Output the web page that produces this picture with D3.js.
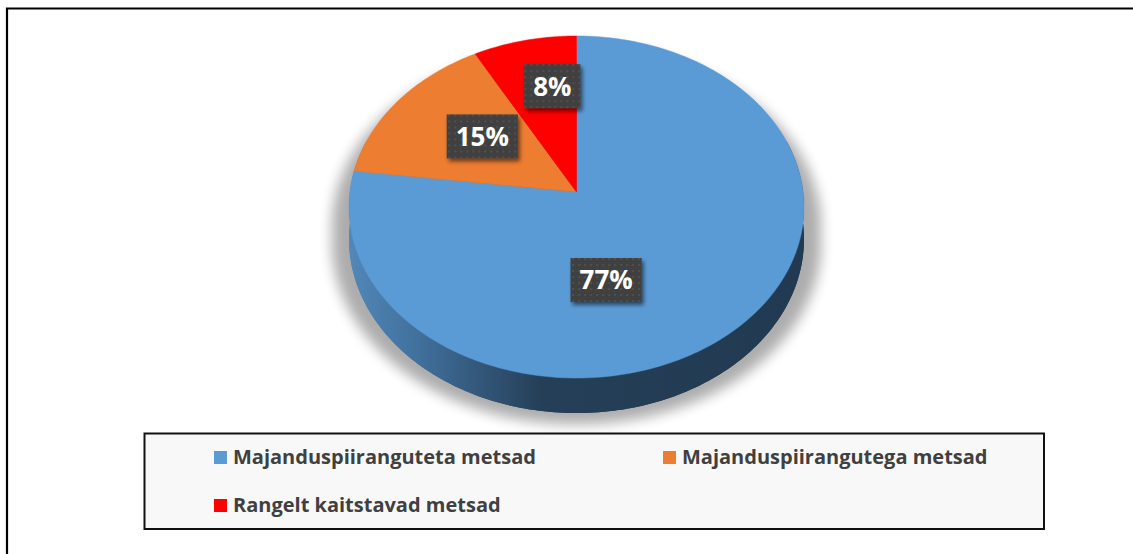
<!DOCTYPE html>
<html>
<head>
<meta charset="utf-8">
<script src="https://cdn.jsdelivr.net/npm/d3@7"></script>
<style>
  body { margin: 0; background: #fff; }
  svg { display: block; }
</style>
</head>
<body>
<div id="chart"></div>
<script>
var svgWidth = 1133;
var svgHeight = 554;

// data
var categories = ["Majanduspiiranguteta metsad", "Majanduspiirangutega metsad", "Rangelt kaitstavad metsad"];
var shares = [77, 15, 8];
var labels = ["77%", "15%", "8%"];
var colors = ["#5B9BD5", "#ED7D31", "#FF0000"];

// 3d pie geometry (perspective-ish projection of a flat disk)
var cx = 576.5, cy = 192;
var rx = 226.6, ry = 169.7;
var persp = 0.0877;
var thick = 32;

function proj(theta, r, depth) {
    var X = r * Math.sin(theta), Y = -r * Math.cos(theta);
    var s = 1 / (1 - persp * Y);
    return [cx + rx * X * s, cy + ry * Y * s + depth * thick * s];
}

function arcPoints(a0, a1, depth) {
    var n = Math.max(4, Math.ceil((a1 - a0) / 0.02));
    return d3.range(n + 1).map(i => proj(a0 + (a1 - a0) * i / n, 1, depth));
}

var line = d3.line();
var color = d3.scaleOrdinal().domain(categories).range(colors);

var svg = d3.select("#chart")
    .append("svg")
    .attr("width", svgWidth)
    .attr("height", svgHeight);

var defs = svg.append("defs");

var sideGrad = defs.append("linearGradient")
    .attr("id", "sideGrad")
    .attr("gradientUnits", "userSpaceOnUse")
    .attr("x1", cx - rx).attr("x2", cx + rx)
    .attr("y1", 0).attr("y2", 0);
[[0, "#5287b8"], [0.15, "#41709c"], [0.42, "#253f58"], [1, "#213a51"]].forEach(s => {
    sideGrad.append("stop").attr("offset", s[0]).attr("stop-color", s[1]);
});

defs.append("filter").attr("id", "blur")
    .attr("x", "-20%").attr("y", "-20%").attr("width", "140%").attr("height", "140%")
    .append("feGaussianBlur").attr("stdDeviation", 6);

defs.append("filter").attr("id", "boxShadow")
    .attr("x", "-30%").attr("y", "-30%").attr("width", "160%").attr("height", "160%")
    .append("feDropShadow")
    .attr("dx", 2).attr("dy", 3).attr("stdDeviation", 2)
    .attr("flood-color", "#000").attr("flood-opacity", 0.55);

var dots = defs.append("pattern")
    .attr("id", "dots")
    .attr("patternUnits", "userSpaceOnUse")
    .attr("width", 6).attr("height", 6);
dots.append("rect").attr("width", 6).attr("height", 6).attr("fill", "#404040");
dots.append("circle").attr("cx", 3).attr("cy", 3).attr("r", 0.9).attr("fill", "#575757");

// outer frame
svg.append("path")
    .attr("d", "M7,560 V8.5 H1133")
    .attr("fill", "none")
    .attr("stroke", "#000")
    .attr("stroke-width", 2.2);

var full = [0, 2 * Math.PI];

// shadow behind pie
var shadow = svg.append("g")
    .attr("transform", `translate(${cx},${cy + 30}) scale(1.075,1.04) translate(${-cx},${-(cy + 30)})`)
    .attr("filter", "url(#blur)")
    .attr("opacity", 0.32);
shadow.append("path").attr("d", line(arcPoints(full[0], full[1], 1.1)) + "Z").attr("fill", "#000");
shadow.append("path").attr("d", line(arcPoints(full[0], full[1], 0.6)) + "Z").attr("fill", "#000");

// side of pie
var pieGroup = svg.append("g");
pieGroup.append("path")
    .attr("d", line(arcPoints(full[0], full[1], 1)) + "Z")
    .attr("fill", "url(#sideGrad)");
var band = arcPoints(0.4 * Math.PI, 1.6 * Math.PI, 0)
    .concat(arcPoints(0.4 * Math.PI, 1.6 * Math.PI, 1).reverse());
pieGroup.append("path")
    .attr("d", line(band) + "Z")
    .attr("fill", "url(#sideGrad)");

// top slices
var pie = d3.pie().sort(null).value(d => d);
var arcs = pie(shares);

pieGroup.selectAll(".slice")
    .data(arcs)
    .enter()
    .append("path")
    .attr("class", "slice")
    .attr("d", d => line([proj(0, 0, 0)].concat(arcPoints(d.startAngle, d.endAngle, 0))) + "Z")
    .attr("fill", (d, i) => color(categories[i]))
    .attr("stroke", (d, i) => color(categories[i]))
    .attr("stroke-width", 0.5);

// data labels
var labelNudge = [[-64, 8.5], [15, 0], [8, -12]];
var labelGroup = svg.append("g");
arcs.forEach((d, i) => {
    var mid = (d.startAngle + d.endAngle) / 2;
    var p = proj(mid, 0.6, 0);
    var x = p[0] + labelNudge[i][0], y = p[1] + labelNudge[i][1];
    var g = labelGroup.append("g").attr("transform", `translate(${x},${y})`);
    var rect = g.append("rect").attr("fill", "url(#dots)").attr("filter", "url(#boxShadow)");
    var t = g.append("text")
        .attr("text-anchor", "middle")
        .attr("dy", "0.36em")
        .attr("fill", "#fff")
        .style("font-family", "'Open Sans', sans-serif")
        .style("font-weight", 700)
        .style("font-size", "26px")
        .text(labels[i]);
    var w = t.node().getComputedTextLength() + 18;
    rect.attr("x", -w / 2).attr("y", -22).attr("width", w).attr("height", 44);
});

// legend
var legendBox = { x: 144.5, y: 433.5, w: 899.5, h: 95.5 };
svg.append("rect")
    .attr("x", legendBox.x).attr("y", legendBox.y)
    .attr("width", legendBox.w).attr("height", legendBox.h)
    .attr("fill", "#f8f8f8")
    .attr("stroke", "#111")
    .attr("stroke-width", 2);

var legendCols = [214, 663];
var legendRows = [464, 512];
var legend = svg.selectAll(".legend")
    .data(categories)
    .enter()
    .append("g")
    .attr("class", "legend")
    .attr("transform", (d, i) => `translate(${legendCols[i % 2]},${legendRows[Math.floor(i / 2)]})`);

legend.append("rect")
    .attr("x", 0).attr("y", -13)
    .attr("width", 13).attr("height", 13)
    .attr("fill", d => color(d));

legend.append("text")
    .attr("x", 19)
    .attr("y", 0)
    .attr("fill", "#404040")
    .style("font-family", "'Open Sans', sans-serif")
    .style("font-weight", 700)
    .style("font-size", "20px")
    .text(d => d);
</script>
</body>
</html>
